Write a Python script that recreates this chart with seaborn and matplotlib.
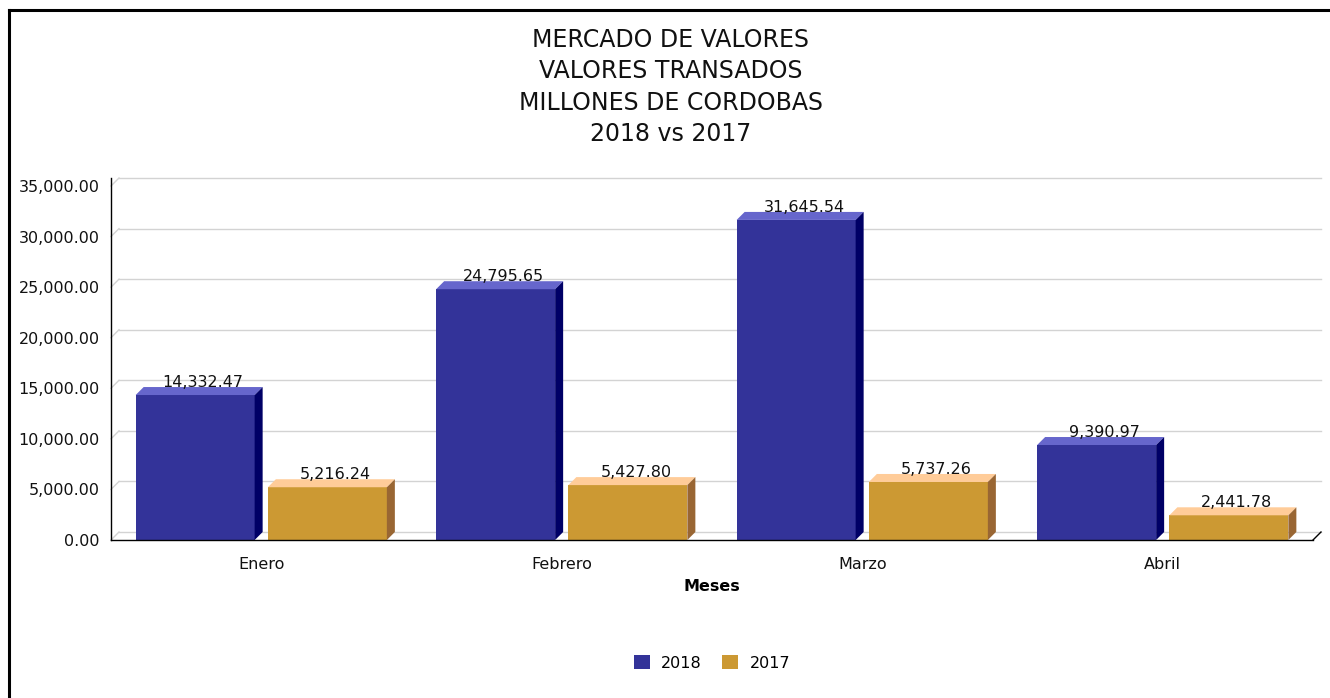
import numpy as np
import pandas as pd
import matplotlib.pyplot as plt
import seaborn as sns
from matplotlib.patches import Polygon, Patch
from matplotlib.lines import Line2D
from matplotlib.ticker import FuncFormatter

# --- data ---
meses = ["Enero", "Febrero", "Marzo", "Abril"]
valores_2018 = [14332.47, 24795.65, 31645.54, 9390.97]
valores_2017 = [5216.24, 5427.80, 5737.26, 2441.78]
series = ["2018", "2017"]

# front / top / side colours for the fake 3D bars
front_colors = {"2018": "#333399", "2017": "#cc9933"}
top_colors = {"2018": "#6666cc", "2017": "#ffcc99"}
side_colors = {"2018": "#000066", "2017": "#996633"}

df = pd.DataFrame({
    "Mes": meses * 2,
    "Serie": ["2018"] * len(meses) + ["2017"] * len(meses),
    "Valor": valores_2018 + valores_2017,
})

plt.rcParams["font.family"] = ["DejaVu Sans"]

W, H = 1330, 698
fig = plt.figure(figsize=(W / 100, H / 100), dpi=100)
fig.patch.set_facecolor("white")

# axes placed in pixels (front plane)
ax_left, ax_right, ax_top, ax_bottom = 111, 1313, 186, 540
ax = fig.add_axes([ax_left / W, (H - ax_bottom) / H,
                   (ax_right - ax_left) / W, (ax_bottom - ax_top) / H])

sns.barplot(data=df, x="Mes", y="Valor", hue="Serie", hue_order=series,
            palette=front_colors, width=0.88, gap=0.1, legend=False,
            saturation=1, edgecolor="none", linewidth=0, ax=ax, zorder=3)

ymax = 35000
ax.set_xlim(-0.5, 3.5)
ax.set_ylim(0, ymax)

# depth of the 3D effect, 8 px converted to data units
depth_px = 8
dx = depth_px * 4.0 / (ax_right - ax_left)
dy = depth_px * ymax / (ax_bottom - ax_top)

# back-plane gridlines with the small diagonal from the front axis
for yv in range(0, ymax + 1, 5000):
    ax.plot([-0.5 + dx, 3.5 + dx], [yv + dy, yv + dy], color="#d3d3d3",
            lw=1.0, zorder=1, clip_on=False)
    ax.plot([-0.5, -0.5 + dx], [yv, yv + dy], color="#d3d3d3",
            lw=1.0, zorder=1, clip_on=False)

# top and side faces + value labels
for serie, cont in zip(series, ax.containers):
    for rect in cont:
        x0, w, h = rect.get_x(), rect.get_width(), rect.get_height()
        top = Polygon([(x0, h), (x0 + w, h), (x0 + w + dx, h + dy), (x0 + dx, h + dy)],
                      closed=True, facecolor=top_colors[serie], edgecolor="none",
                      zorder=3, clip_on=False)
        side = Polygon([(x0 + w, 0), (x0 + w + dx, dy), (x0 + w + dx, h + dy), (x0 + w, h)],
                       closed=True, facecolor=side_colors[serie], edgecolor="none",
                       zorder=3, clip_on=False)
        ax.add_patch(top)
        ax.add_patch(side)
        ax.text(x0 + w / 2 + dx, h + dy, f"{h:,.2f}", ha="center", va="baseline",
                fontsize=11.5, color="#111111", zorder=5)

# axis lines
for s in ax.spines.values():
    s.set_visible(False)
ax.plot([-0.5, -0.5], [0, ymax + dy], color="black", lw=1.0, zorder=4, clip_on=False)
ax.plot([-0.5, 3.5], [0, 0], color="black", lw=1.0, zorder=4, clip_on=False)
ax.plot([3.5, 3.5 + dx], [0, dy], color="black", lw=1.0, zorder=4, clip_on=False)

ax.set_yticks(range(0, ymax + 1, 5000))
ax.yaxis.set_major_formatter(FuncFormatter(lambda v, p: f"{v:,.2f}"))
ax.tick_params(axis="both", length=0, labelsize=11.5, colors="#111111")
ax.tick_params(axis="y", pad=8)
ax.tick_params(axis="x", pad=12)
ax.set_xlabel("Meses", fontsize=11.5, fontweight="bold", labelpad=5)
ax.set_ylabel("")
ax.grid(False)

# title
fig.text(671 / W, 1 - 87 / H,
         "MERCADO DE VALORES\nVALORES TRANSADOS\nMILLONES DE CORDOBAS\n2018 vs 2017",
         ha="center", va="center", fontsize=17, linespacing=1.4, color="#111111")

# legend
handles = [Patch(facecolor=front_colors[s], edgecolor="none", label=s) for s in series]
fig.legend(handles=handles, loc="center", bbox_to_anchor=(712 / W, 1 - 663 / H),
           ncol=2, frameon=False, fontsize=11.5, handlelength=1.0, handleheight=1.0,
           handletextpad=0.7, columnspacing=1.3)

# outer frame (left and top edge only, as in the reference)
fig.add_artist(Line2D([8.5 / W, 8.5 / W], [0, 1 - 10 / H], color="black", lw=2.2))
fig.add_artist(Line2D([8.5 / W, 1], [1 - 10 / H, 1 - 10 / H], color="black", lw=2.2))

fig.savefig("out.png", dpi=100)
